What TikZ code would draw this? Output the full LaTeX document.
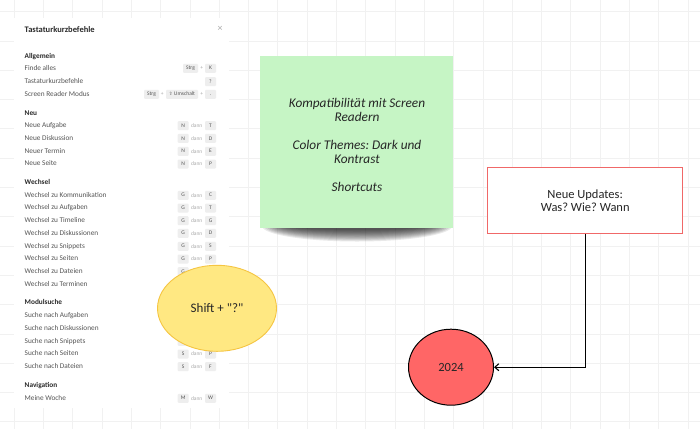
\documentclass[tikz,border=0pt]{standalone}
\usepackage{fontspec}
\setmainfont{Carlito}[Ligatures=TeXOff]
\newfontfamily\dejavu{DejaVu Sans}
\usetikzlibrary{arrows.meta,shapes.geometric}
\frenchspacing
\definecolor{gridc}{HTML}{F1F1F1}
\definecolor{itemc}{HTML}{555555}
\definecolor{headc}{HTML}{2A2A2A}
\definecolor{keyc}{HTML}{EEEEEE}
\definecolor{keytc}{HTML}{555555}
\definecolor{dannc}{HTML}{AAAAAA}
\definecolor{notec}{HTML}{C6F5C5}
\definecolor{yelf}{HTML}{FFE882}
\definecolor{yeld}{HTML}{F5C542}
\definecolor{redd}{HTML}{F06868}
\definecolor{redf}{HTML}{FF6666}
\definecolor{txtc}{HTML}{262626}
\tikzset{
  item/.style={anchor=west, font=\fontsize{7.3}{8}\selectfont, text=itemc, inner sep=0pt, text height=5pt, text depth=1.4pt},
  head/.style={item, font=\bfseries\fontsize{7.3}{8}\selectfont, text=headc},
  kbd/.style={fill=keyc, rounded corners=1pt, minimum height=9pt, minimum width=11pt, inner sep=1pt, font=\fontsize{5.5}{6}\selectfont, text=keytc, text height=3.8pt, text depth=0.6pt},
  dann/.style={font=\fontsize{5.5}{6}\selectfont, text=dannc, inner sep=0pt},
  plus/.style={font=\fontsize{5.5}{6}\selectfont, text=dannc, inner sep=0pt},
  gridline/.style={draw=gridc, line width=1pt},
}
\newcommand\kbrow[5]{%
  \node[item] (#1) at (24.5,#2) {#3};
  \node[kbd] (#1a) at (183.2,#2) {#4};
  \node[dann] (#1d) at (196.7,#2) {dann};
  \node[kbd] (#1b) at (210.5,#2) {#5};}
\begin{document}
\begin{tikzpicture}[x=1pt,y=-1pt]
\useasboundingbox (0,0) rectangle (700,429);
\fill[white] (0,0) rectangle (700,429);
% grid
\foreach \k in {0,...,23} \draw[gridline] ({14.2+29.3*\k},0) -- ({14.2+29.3*\k},429);
\foreach \k in {0,...,14} \draw[gridline] (0,{11.7+29.3*\k}) -- (700,{11.7+29.3*\k});
% panel
\fill[white] (13.5,18) rectangle (229,408);
\node[anchor=west, font=\bfseries\fontsize{8.5}{10}\selectfont, text=headc, inner sep=0pt] (title) at (24.5,29.3) {Tastaturkurzbefehle};
\node[font=\fontsize{10}{10}\selectfont, text=dannc, inner sep=0pt] (close) at (220,29) {×};
% Allgemein
\node[head] (hAll) at (24.5,56.3) {Allgemein};
\node[item] (finde) at (24.5,68.3) {Finde alles};
\node[kbd, minimum width=15pt] (findeA) at (190.5,68.3) {Strg};
\node[plus] (findeP) at (201.7,68.3) {+};
\node[kbd] (findeB) at (210.5,68.3) {K};
\node[item] (tast) at (24.5,81.7) {Tastaturkurzbefehle};
\node[kbd] (tastB) at (210.5,81.7) {?};
\node[item] (scr) at (24.5,94.3) {Screen Reader Modus};
\node[kbd, minimum width=15pt] (scrA) at (151.5,94.3) {Strg};
\node[plus] (scrP1) at (162.3,94.3) {+};
\node[kbd, minimum width=32pt] (scrB) at (182,94.3) {{\dejavu\fontsize{4.5}{5}\selectfont ⇧} Umschalt};
\node[plus] (scrP2) at (201.7,94.3) {+};
\node[kbd] (scrC) at (210.5,94.3) {.};
% Neu
\node[head] (hNeu) at (24.5,113.3) {Neu};
\kbrow{n1}{125.7}{Neue Aufgabe}{N}{T}
\kbrow{n2}{138.4}{Neue Diskussion}{N}{D}
\kbrow{n3}{151.3}{Neuer Termin}{N}{E}
\kbrow{n4}{164}{Neue Seite}{N}{P}
% Wechsel
\node[head] (hWe) at (24.5,182.7) {Wechsel};
\kbrow{w1}{195.3}{Wechsel zu Kommunikation}{G}{C}
\kbrow{w2}{208}{Wechsel zu Aufgaben}{G}{T}
\kbrow{w3}{220.7}{Wechsel zu Timeline}{G}{G}
\kbrow{w4}{233.3}{Wechsel zu Diskussionen}{G}{D}
\kbrow{w5}{246.3}{Wechsel zu Snippets}{G}{S}
\kbrow{w6}{259}{Wechsel zu Seiten}{G}{P}
\node[item] (w7) at (24.5,271.7) {Wechsel zu Dateien};
\node[kbd] (w7a) at (183.2,271.7) {G};
\node[item] (w8) at (24.5,284.3) {Wechsel zu Terminen};
% Modulsuche
\node[head] (hMod) at (24.5,303) {Modulsuche};
\node[item] (m1) at (24.5,316) {Suche nach Aufgaben};
\node[item] (m2) at (24.5,328.7) {Suche nach Diskussionen};
\node[item] (m3) at (24.5,341.3) {Suche nach Snippets};
\node[kbd] (m3a) at (183.2,341.3) {S};
\kbrow{m4}{354}{Suche nach Seiten}{S}{P}
\kbrow{m5}{366.7}{Suche nach Dateien}{S}{F}
% Navigation
\node[head] (hNav) at (24.5,385.3) {Navigation};
\kbrow{v1}{398.3}{Meine Woche}{M}{W}
% sticky note shadow
\foreach \i in {0,...,11}
  \fill[black, opacity=0.085] (357,226) ellipse [x radius={95-2.2*\i}, y radius={15.5-1.05*\i}];
% sticky note
\node[fill=notec, minimum width=193pt, minimum height=172pt, inner sep=0pt] (note) at (356.7,142.2) {};
\node[font=\itshape\fontsize{13.3}{14}\selectfont, text=txtc, align=center, inner sep=0pt] (notetext) at (357,144.5)
  {Kompatibilität mit Screen\\Readern\\[14pt]Color Themes: Dark und\\Kontrast\\[14pt]Shortcuts};
% yellow ellipse
\node[ellipse, draw=yeld, fill=yelf, line width=0.9pt, minimum width=119pt, minimum height=86pt, inner sep=0pt,
  font=\fontsize{13}{15}\selectfont, text=txtc] (shift) at (217,308.3) {Shift + "?"};
% updates box
\node[draw=redd, fill=white, line width=1pt, minimum width=195pt, minimum height=66pt, inner sep=0pt, align=center,
  font=\fontsize{12.5}{13}\selectfont, text=txtc] (upd) at (585.2,200.3) {Neue Updates:\\Was? Wie? Wann};
% 2024 ellipse
\node[ellipse, draw=black, fill=redf, line width=1pt, minimum width=85pt, minimum height=76pt, inner sep=0pt,
  font=\fontsize{12.5}{14}\selectfont, text=txtc] (year) at (451,367.2) {2024};
% connector
\draw[line width=1.1pt, -{Straight Barb[length=4pt,width=7pt]}] (upd.south) |- (year.east);
\end{tikzpicture}
\end{document}
